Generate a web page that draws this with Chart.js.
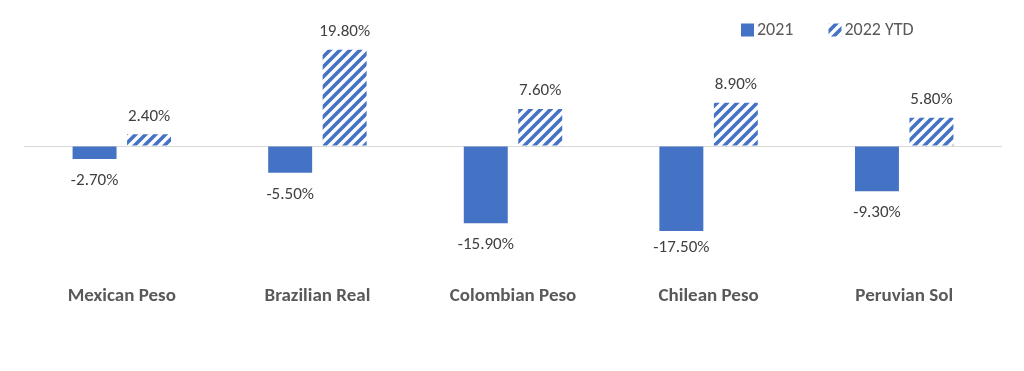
<!DOCTYPE html>
<html>
<head>
<meta charset="utf-8">
<script src="https://cdn.jsdelivr.net/npm/chart.js@4/dist/chart.umd.min.js"></script>
<style>
    html, body { margin: 0; padding: 0; background: #ffffff; }
    #wrap { width: 1024px; height: 371px; }
</style>
</head>
<body>
<div id="wrap"><canvas id="fxChart" width="1024" height="371"></canvas></div>
<script>
const categories = ['Mexican Peso', 'Brazilian Real', 'Colombian Peso', 'Chilean Peso', 'Peruvian Sol'];
const seriesNames = ['2021', '2022 YTD'];
const values2021 = [-2.7, -5.5, -15.9, -17.5, -9.3];
const values2022 = [2.4, 19.8, 7.6, 8.9, 5.8];

const BLUE = '#4472c4';
const FONT = 'Carlito, Calibri, Lato, sans-serif';

function makeHatch() {
    const size = 10;
    const c = document.createElement('canvas');
    c.width = size;
    c.height = size;
    const g = c.getContext('2d');
    g.fillStyle = '#ffffff';
    g.fillRect(0, 0, size, size);
    g.strokeStyle = BLUE;
    g.lineWidth = 3.6;
    g.beginPath();
    g.moveTo(-2, size + 2); g.lineTo(size + 2, -2);
    g.moveTo(-2, 2); g.lineTo(2, -2);
    g.moveTo(size - 2, size + 2); g.lineTo(size + 2, size - 2);
    g.stroke();
    return g.createPattern(c, 'repeat');
}

const valueLabels = {
    id: 'valueLabels',
    afterDatasetsDraw(chart) {
        const ctx = chart.ctx;
        ctx.save();
        ctx.font = '17px ' + FONT;
        ctx.fillStyle = '#404040';
        ctx.textAlign = 'center';
        ctx.textBaseline = 'middle';
        chart.data.datasets.forEach((ds, i) => {
            chart.getDatasetMeta(i).data.forEach((bar, j) => {
                const v = ds.data[j];
                const y = v >= 0 ? bar.y - 18 : Math.min(bar.y + 22, 248);
                ctx.fillText(v.toFixed(2) + '%', bar.x, y);
            });
        });
        ctx.restore();
    }
};

const topLegend = {
    id: 'topLegend',
    afterDraw(chart) {
        const ctx = chart.ctx;
        ctx.save();
        ctx.font = '18px ' + FONT;
        ctx.textBaseline = 'middle';
        let x = 741;
        const y = 30;
        chart.data.datasets.forEach(ds => {
            ctx.fillStyle = ds.backgroundColor;
            ctx.fillRect(x, y - 6.5, 13, 13);
            ctx.fillStyle = '#595959';
            ctx.fillText(ds.label, x + 16, y);
            x += 16 + ctx.measureText(ds.label).width + 35;
        });
        ctx.restore();
    }
};

new Chart(document.getElementById('fxChart'), {
    type: 'bar',
    data: {
        labels: categories,
        datasets: [
            {
                label: seriesNames[0],
                data: values2021,
                backgroundColor: BLUE,
                borderWidth: 0,
                barPercentage: 0.807,
                categoryPercentage: 0.557
            },
            {
                label: seriesNames[1],
                data: values2022,
                backgroundColor: makeHatch(),
                borderWidth: 0,
                barPercentage: 0.807,
                categoryPercentage: 0.557
            }
        ]
    },
    options: {
        responsive: false,
        animation: false,
        layout: {
            padding: { left: 24, right: 22, top: 44, bottom: 59 }
        },
        plugins: {
            legend: { display: false },
            tooltip: { enabled: false }
        },
        scales: {
            x: {
                afterFit(scale) { scale.height = 30; },
                grid: { display: false, drawTicks: false, tickLength: 0 },
                border: { display: false },
                ticks: {
                    color: '#595959',
                    padding: 3,
                    font: { family: FONT, size: 19, weight: 'bold' }
                }
            },
            y: {
                min: -28,
                max: 21,
                grid: {
                    drawTicks: false,
                    tickLength: 0,
                    color: ctx => ctx.tick && ctx.tick.value === 0 ? '#d9d9d9' : 'rgba(0,0,0,0)'
                },
                border: { display: false },
                ticks: { display: false, stepSize: 7 }
            }
        }
    },
    plugins: [valueLabels, topLegend]
});
</script>
</body>
</html>
